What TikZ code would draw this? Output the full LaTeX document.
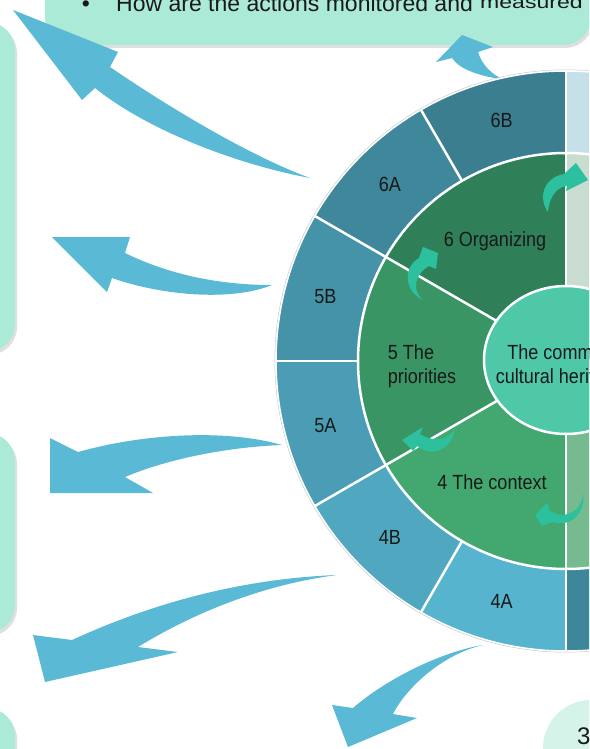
\documentclass[tikz,border=0pt]{standalone}
\usepackage{fontspec}
\setmainfont{Liberation Sans}
\newfontfamily\wheelfont[FakeStretch=0.88]{Liberation Sans}
\usetikzlibrary{shadows}
\definecolor{mint}{RGB}{172,234,216}
\definecolor{mintpale}{RGB}{214,243,234}
\definecolor{ink}{RGB}{25,25,25}
\definecolor{arrowblue}{RGB}{90,185,212}
\definecolor{turnteal}{RGB}{45,192,158}
\definecolor{seg6B}{RGB}{59,126,144}
\definecolor{seg6A}{RGB}{63,136,156}
\definecolor{seg5B}{RGB}{69,147,168}
\definecolor{seg5A}{RGB}{74,157,181}
\definecolor{seg4B}{RGB}{80,168,192}
\definecolor{seg4A}{RGB}{87,180,206}
\definecolor{segtop}{RGB}{198,224,234}
\definecolor{segbot}{RGB}{62,134,154}
\definecolor{green6}{RGB}{47,128,88}
\definecolor{green5}{RGB}{57,150,100}
\definecolor{green4}{RGB}{66,168,111}
\definecolor{greentop}{RGB}{200,220,208}
\definecolor{greenbot}{RGB}{118,187,144}
\definecolor{coreteal}{RGB}{79,200,168}
\begin{document}
\begin{tikzpicture}[x=1pt, y=-1pt,
  infobox/.style={fill=mint, rounded corners=28pt, drop shadow={shadow xshift=2pt, shadow yshift=-3pt, opacity=0.25}},
  bigarrow/.style={fill=arrowblue},
  turnarrow/.style={fill=turnteal},
  divider/.style={draw=white, line width=2.5pt},
  seglabel/.style={font=\wheelfont\fontsize{20.5}{24}\selectfont, text=ink}]
\useasboundingbox (0,0) rectangle (589,749);
\clip (0,0) rectangle (589,749);

% question boxes
\path[infobox] (45,-80) rectangle (591,45);
\path[infobox] (-60,22) rectangle (15,352);
\path[infobox] (-60,433) rectangle (15,633);
\path[infobox] (-60,708) rectangle (15,800);
\path[infobox, fill=mintpale, rounded corners=48pt] (543,700) rectangle (700,850);
\node[anchor=base, font=\fontsize{23}{24}\selectfont, text=ink] (dot) at (86,11.5) {\textbullet};
\node[anchor=base west, font=\fontsize{23}{24}\selectfont, text=ink, inner sep=0pt] (ask) at (116,11.5) {How are the actions monitored and};
\node[anchor=base west, font=\fontsize{18}{20}\selectfont, text=ink, inner sep=0pt] (askend) at (480,9) {\scalebox{1.28}[1]{measured}};
\node[anchor=base west, font=\fontsize{24}{24}\selectfont, text=ink, inner sep=0pt] (three) at (577,744) {3};

% blue arrows out of the wheel
\fill[bigarrow] (505,80) .. controls (480,76) and (460,70) .. (452,58) -- (436,62) -- (462,35) -- (493,47) -- (478,52) .. controls (482,65) and (492,75) .. (505,80) -- cycle;
\fill[bigarrow] (310,178) .. controls (250,156) and (170,108) .. (110,67) -- (118,52) -- (13,10) -- (82,100) -- (95,88) .. controls (150,132) and (240,165) .. (310,178) -- cycle;
\fill[bigarrow] (272,285) .. controls (220,285) and (170,275) .. (125,253) -- (130,237) -- (52,237) -- (107,292) -- (112,278) .. controls (160,295) and (230,302) .. (272,285) -- cycle;
\fill[bigarrow] (282,445) .. controls (230,430) and (150,432) .. (78,452) -- (50,438) -- (50,493) -- (153,493) -- (125,477) .. controls (170,458) and (230,447) .. (282,445) -- cycle;
\fill[bigarrow] (337,575) .. controls (260,578) and (170,595) .. (72,640) -- (33,635) -- (45,682) -- (178,652) -- (138,647) .. controls (190,615) and (260,585) .. (337,575) -- cycle;
\fill[bigarrow] (483,645) .. controls (440,652) and (385,680) .. (353,708) -- (332,705) -- (348,747) -- (417,718) -- (393,714) .. controls (405,690) and (440,655) .. (483,645) -- cycle;

% the wheel
\begin{scope}[shift={(566,361)}, y=1pt]
  \foreach \a/\c in {90/seg6B,120/seg6A,150/seg5B,180/seg5A,210/seg4B,240/seg4A}
    \fill[\c] (\a:290) arc[start angle=\a, delta angle=30, radius=290] -- ({\a+30}:208) arc[start angle={\a+30}, delta angle=-30, radius=208] -- cycle;
  \fill[segtop] (0:290) arc[start angle=0, end angle=90, radius=290] -- (90:208) arc[start angle=90, end angle=0, radius=208] -- cycle;
  \fill[segbot] (270:290) arc[start angle=270, end angle=360, radius=290] -- (0:208) arc[start angle=360, end angle=270, radius=208] -- cycle;
  \foreach \a/\c in {90/green6,150/green5,210/green4}
    \fill[\c] (0,0) -- (\a:208) arc[start angle=\a, delta angle=60, radius=208] -- cycle;
  \fill[greentop] (0,0) -- (0:208) arc[start angle=0, end angle=90, radius=208] -- cycle;
  \fill[greenbot] (0,0) -- (270:208) arc[start angle=270, end angle=360, radius=208] -- cycle;
  \draw[divider] (0,0) circle[radius=208];
  \foreach \a in {120,180,240}
    \draw[divider] (\a:208) -- (\a:290);
  \foreach \a in {150,210}
    \draw[divider] (0,0) -- (\a:290);
  \draw[divider] (90:290) -- (270:290);
  \draw[white, line width=1.5pt] (0,0) circle[radius=290];
  \draw[black!20, line width=0.5pt] (0,0) circle[radius=291.2];
  \fill[coreteal, divider] (0,1) ellipse[x radius=82, y radius=74];
  \foreach \a/\t in {105/6B,135/6A,165/5B,195/5A,225/4B,255/4A}
    \node[seglabel] (lab\t) at (\a:249) {\t};
  \node[seglabel] (organize) at (-71,120) {6 Organizing};
  \node[seglabel, align=left] (prio) at (-144,-5) {5 The\\priorities};
  \node[seglabel] (context) at (-74,-121) {4 The context};
  \node[seglabel, align=center] (core) at (-6,-5) {The common\\cultural heritage};
\end{scope}

% turning arrows between the stages
\fill[turnarrow] (548,212) .. controls (538,198) and (543,178) .. (564,174) -- (576,163) -- (588,180) -- (566,191) -- (567,186) .. controls (556,187) and (549,198) .. (548,212) -- cycle;
\fill[turnarrow] (423,300) .. controls (405,292) and (402,268) .. (419,258) -- (423,247) -- (438,253) -- (436,269) -- (429,266) .. controls (415,274) and (411,290) .. (423,300) -- cycle;
\fill[turnarrow] (455,428) .. controls (450,440) and (435,443) .. (420,434) -- (423,427) -- (402,440) -- (413,451) -- (417,446) .. controls (432,458) and (452,450) .. (455,428) -- cycle;
\fill[turnarrow] (583,493) .. controls (582,512) and (565,520) .. (550,511) -- (547,503) -- (535,515) -- (542,526) -- (552,522) .. controls (572,528) and (586,512) .. (583,493) -- cycle;
\end{tikzpicture}
\end{document}
